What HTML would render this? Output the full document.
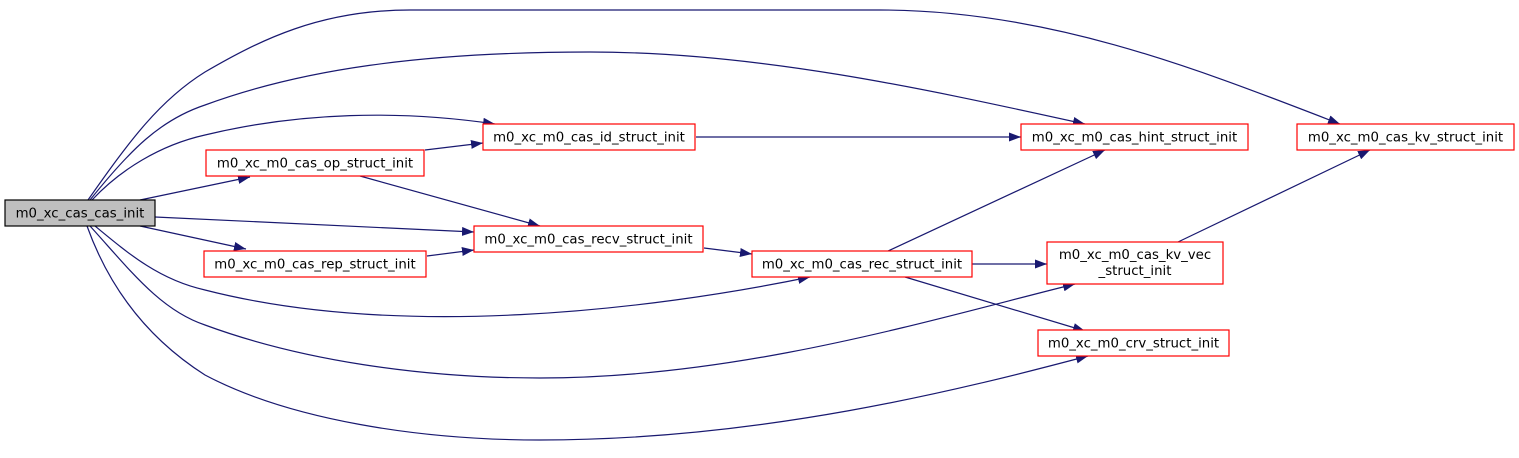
<!DOCTYPE html>
<html><head><meta charset="utf-8"><style>
html,body{margin:0;padding:0;background:#fff}
svg{display:block}
text{font-family:"DejaVu Sans","Liberation Sans",sans-serif;font-size:13.3px;fill:#000}
</style></head><body>
<svg width="1519" height="458" viewBox="0 0 1519 458" xmlns="http://www.w3.org/2000/svg">
<defs>
<marker id="a" markerWidth="12" markerHeight="9" refX="12" refY="4.5" orient="auto" markerUnits="userSpaceOnUse">
<path d="M0,0 L12,4.5 L0,9 Z" fill="#191970"/>
</marker>
</defs>
<g fill="none" stroke="#191970" stroke-width="1.2" marker-end="url(#a)">
<path d="M88,200 C130,140 160,100 205,72 C260,40 320,10 410,10 L880,10 C1050,10 1200,70 1340,124"/>
<path d="M90,200 C130,150 160,120 205,105 C300,70 420,52 590,52 C760,52 930,90 1085,124"/>
<path d="M92,200 C120,170 160,145 205,135 C300,112 400,110 495,124"/>
<path d="M140,200 L250,177"/>
<path d="M155,217 L474,232"/>
<path d="M140,226 L246,249"/>
<path d="M95,226 C130,255 160,280 205,290 C400,340 650,310 810,277"/>
<path d="M90,226 C130,270 160,310 205,325 C300,360 420,378 540,378 C740,378 930,320 1075,284"/>
<path d="M87,226 C110,290 150,340 205,375 C290,420 420,440 540,440 C760,440 960,390 1088,356"/>
<path d="M425,150 L483,143"/>
<path d="M360,176 L540,226"/>
<path d="M427,256 L474,250"/>
<path d="M696,137 L1021,137"/>
<path d="M704,248 L752,254"/>
<path d="M888,251 L1105,150"/>
<path d="M972,264 L1047,264"/>
<path d="M905,277 L1085,331"/>
<path d="M1178,242 L1370,150"/>
</g>
<g stroke-width="1.2">
<rect x="5" y="200" width="150" height="26" fill="#bfbfbf" stroke="#000"/>
<rect x="206" y="150" width="218" height="26" fill="#fff" stroke="#ff0000"/>
<rect x="204" y="251" width="222" height="26" fill="#fff" stroke="#ff0000"/>
<rect x="483" y="124" width="212" height="26" fill="#fff" stroke="#ff0000"/>
<rect x="474" y="226" width="229" height="26" fill="#fff" stroke="#ff0000"/>
<rect x="752" y="251" width="220" height="26" fill="#fff" stroke="#ff0000"/>
<rect x="1021" y="124" width="227" height="26" fill="#fff" stroke="#ff0000"/>
<rect x="1297" y="124" width="217" height="26" fill="#fff" stroke="#ff0000"/>
<rect x="1047" y="242" width="176" height="42" fill="#fff" stroke="#ff0000"/>
<rect x="1038" y="330" width="191" height="26" fill="#fff" stroke="#ff0000"/>
</g>
<g text-anchor="middle">
<text x="80" y="217.5">m0_xc_cas_cas_init</text>
<text x="315" y="167.5">m0_xc_m0_cas_op_struct_init</text>
<text x="315" y="268.5">m0_xc_m0_cas_rep_struct_init</text>
<text x="589" y="141.5">m0_xc_m0_cas_id_struct_init</text>
<text x="588.5" y="243.5">m0_xc_m0_cas_recv_struct_init</text>
<text x="862" y="268.5">m0_xc_m0_cas_rec_struct_init</text>
<text x="1134.5" y="141.5">m0_xc_m0_cas_hint_struct_init</text>
<text x="1405.5" y="141.5">m0_xc_m0_cas_kv_struct_init</text>
<text x="1135" y="259">m0_xc_m0_cas_kv_vec</text>
<text x="1135" y="275">_struct_init</text>
<text x="1133.5" y="347.5">m0_xc_m0_crv_struct_init</text>
</g>
</svg>
</body></html>
